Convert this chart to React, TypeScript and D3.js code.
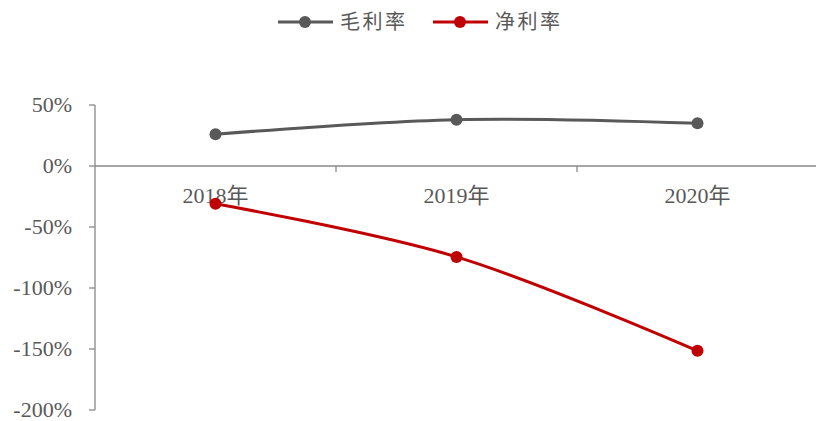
import React from "react";
import * as d3 from "d3";

const categories = ["2018年", "2019年", "2020年"];
const grossMargin = [26, 38, 35];
const netMargin = [-31, -74.5, -151.5];
const yTicks = [50, 0, -50, -100, -150, -200];
const seriesNames = ["毛利率", "净利率"];
const seriesColors = ["#595959", "#C00000"];

export default function App() {
  const W = 816, H = 421;
  const x = d3.scaleBand<string>().domain(categories).range([95, 818]);
  const y = d3.scaleLinear().domain([-200, 50]).range([410, 105]);
  const cx = (c: string) => (x(c) as number) + x.bandwidth() / 2;
  const line = d3
    .line<number>()
    .x((_, i) => cx(categories[i]))
    .y((d) => y(d))
    .curve(d3.curveCatmullRom.alpha(0.5));
  const series = [grossMargin, netMargin];
  const font = "'Liberation Serif', 'Times New Roman', 'Noto Sans CJK SC', serif";
  const legendX = [278, 433];
  const bounds = [95, ...categories.map((c) => (x(c) as number) + x.bandwidth())];
  return (
    <svg width={W} height={H} style={{ position: "absolute", left: 0, top: 0 }}>
      <rect width={W} height={H} fill="#fff" />
      {/* legend */}
      {seriesNames.map((n, i) => (
        <g key={n}>
          <line x1={legendX[i]} x2={legendX[i] + 55} y1={22} y2={22} stroke={seriesColors[i]} strokeWidth={3} />
          <circle cx={legendX[i] + 27} cy={22} r={6} fill={seriesColors[i]} />
          <text x={legendX[i] + 62} y={29} fontSize={20} letterSpacing={2.5} fill="#595959" fontFamily="'Noto Sans CJK SC', sans-serif">
            {n}
          </text>
        </g>
      ))}
      {/* y axis */}
      <line x1={95} x2={95} y1={y(50)} y2={y(-200)} stroke="#888" strokeWidth={1.3} />
      {yTicks.map((t) => (
        <g key={t}>
          <line x1={89} x2={95} y1={y(t)} y2={y(t)} stroke="#888" strokeWidth={1.3} />
          <text x={72} y={y(t) + 7} textAnchor="end" fontSize={22} fill="#595959" fontFamily={font}>
            {t}%
          </text>
        </g>
      ))}
      {/* x axis */}
      <line x1={95} x2={816} y1={y(0)} y2={y(0)} stroke="#888" strokeWidth={1.3} />
      {bounds.slice(1, -1).map((b, i) => (
        <line key={i} x1={b} x2={b} y1={y(0)} y2={y(0) + 6} stroke="#888" strokeWidth={1.3} />
      ))}
      {categories.map((c) => (
        <text key={c} x={cx(c)} y={y(0) + 37} textAnchor="middle" fontSize={22} fill="#595959" fontFamily={font}>
          {c}
        </text>
      ))}
      {/* series */}
      {series.map((s, i) => (
        <g key={i}>
          <path d={line(s) || ""} fill="none" stroke={seriesColors[i]} strokeWidth={3} />
          {s.map((v, j) => (
            <circle key={j} cx={cx(categories[j])} cy={y(v)} r={6} fill={seriesColors[i]} />
          ))}
        </g>
      ))}
    </svg>
  );
}
